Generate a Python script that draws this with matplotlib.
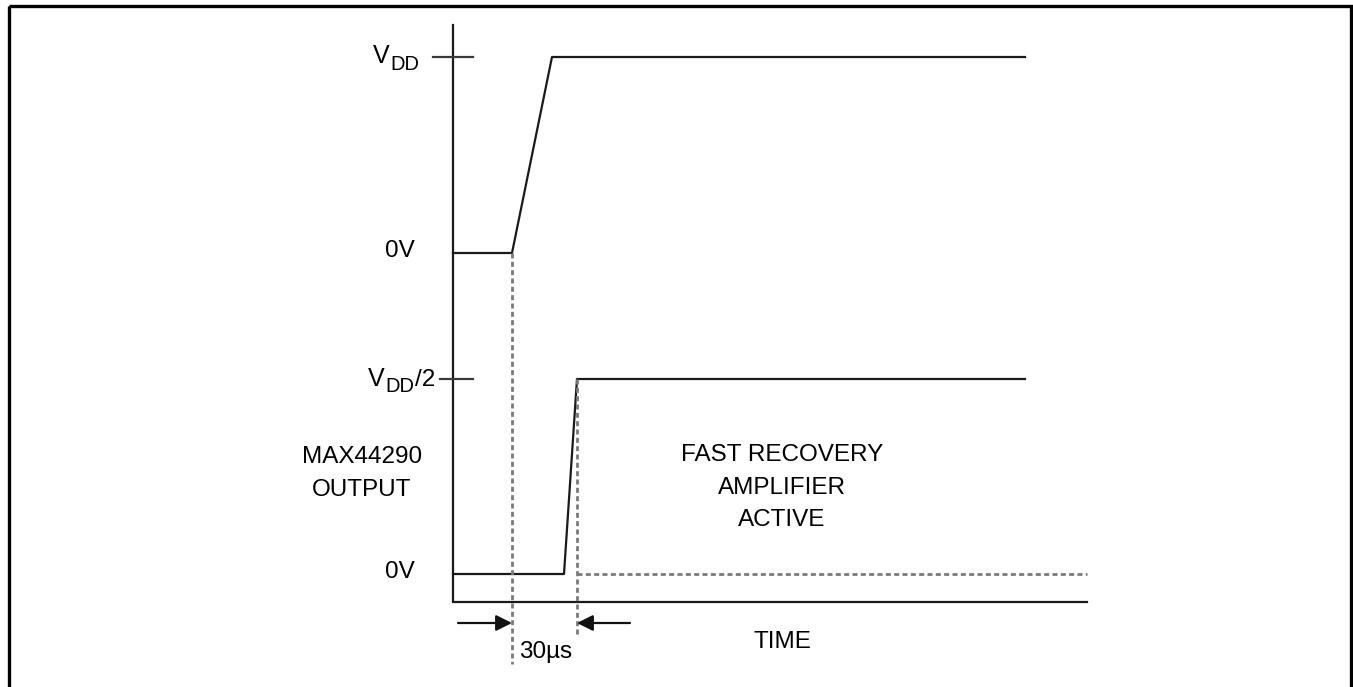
import matplotlib.pyplot as plt
from matplotlib.patches import Rectangle

plt.rcParams['font.family'] = ['Liberation Sans', 'DejaVu Sans']

# =============================================================================
# DATOS (coordenadas en pixeles de la figura, y hacia abajo)
# =============================================================================
# senal de alimentacion: 0V -> VDD
vdd_x = [453, 512, 552, 1025]
vdd_y = [253, 253, 57, 57]

# salida del MAX44290: 0V -> VDD/2
out_x = [453, 564, 577, 1025]
out_y = [574, 574, 379, 379]

# ejes del diagrama
eje_x = [453, 453, 1087]
eje_y = [25, 602, 602]

# marcas en el eje vertical
marcas_y = [57, 379]
marcas_x0 = [433, 440]
marcas_x1 = [473, 473]

# lineas punteadas de referencia
guia_v_x = [512, 577]
guia_v_y0 = [253, 379]
guia_v_y1 = [664, 635]
guia_h_y = 574
guia_h_x = [577, 1087]

# flechas del intervalo de 30us
flecha_y = 623
flecha_inicio = [458, 630]
flecha_fin = [512, 577]

# textos
etiquetas = ['0V', '0V']
etiquetas_y = [251, 572]
texto_recuperacion = ['FAST RECOVERY', 'AMPLIFIER', 'ACTIVE']
texto_recuperacion_y = [455, 488, 520]
texto_salida = ['MAX44290', 'OUTPUT']
texto_salida_y = [457, 490]

# =============================================================================
# GRAFICO
# =============================================================================
fig = plt.figure(figsize=(13.53, 6.87), dpi=100)
ax = fig.add_axes([0, 0, 1, 1])
ax.set_xlim(0, 1353)
ax.set_ylim(687, 0)
ax.axis('off')

lw = 1.6
fs = 17.5
fs_sub = 14.5
gris = '#7a7a7a'
tinta = '#1a1a1a'

# marco
ax.add_patch(Rectangle((9, 6), 1342, 700, fill=False, edgecolor='black', linewidth=2.4))

ax.plot(eje_x, eje_y, color=tinta, lw=lw, solid_joinstyle='miter')
for y, x0, x1 in zip(marcas_y, marcas_x0, marcas_x1):
    ax.plot([x0, x1], [y, y], color='#3a3a3a', lw=lw)

ax.plot(vdd_x, vdd_y, color=tinta, lw=lw)
ax.plot(out_x, out_y, color=tinta, lw=lw)

for x, y0, y1 in zip(guia_v_x, guia_v_y0, guia_v_y1):
    ax.plot([x, x], [y0, y1], color=gris, lw=2.0, dashes=(1.8, 1.2))
ax.plot(guia_h_x, [guia_h_y, guia_h_y], color=gris, lw=2.0, dashes=(1.8, 1.2))

for x0, x1 in zip(flecha_inicio, flecha_fin):
    ax.annotate('', xy=(x1, flecha_y), xytext=(x0, flecha_y),
                arrowprops=dict(arrowstyle='-|>', color='#111111', lw=1.6,
                                mutation_scale=24, shrinkA=0, shrinkB=0))

# V_DD
ax.text(373, 56, 'V', fontsize=18, ha='left', va='center')
ax.text(390, 64, 'DD', fontsize=fs_sub, ha='left', va='center')
# V_DD/2
ax.text(368, 379, 'V', fontsize=18, ha='left', va='center')
ax.text(385, 387, 'DD', fontsize=fs_sub, ha='left', va='center')
ax.text(415, 380, '/2', fontsize=fs, ha='left', va='center')

for t, y in zip(etiquetas, etiquetas_y):
    ax.text(400, y, t, fontsize=fs, ha='center', va='center')
for t, y in zip(texto_salida, texto_salida_y):
    ax.text(362, y, t, fontsize=fs, ha='center', va='center')
for t, y in zip(texto_recuperacion, texto_recuperacion_y):
    ax.text(782, y, t, fontsize=fs, ha='center', va='center')
ax.text(782, 642, 'TIME', fontsize=fs, ha='center', va='center')
ax.text(546, 652, '30µs', fontsize=fs, ha='center', va='center')

plt.savefig('out.png', dpi=100)
